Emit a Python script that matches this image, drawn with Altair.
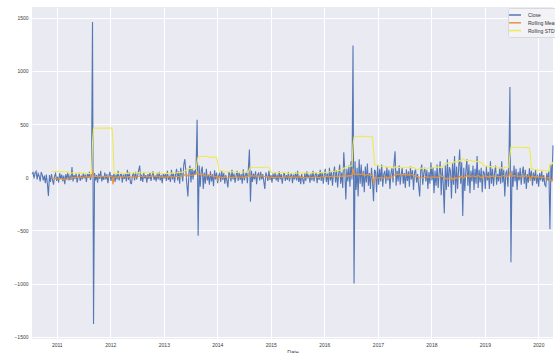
import altair as alt
import pandas as pd

start_date = "2010-07-16"

seg_a = [30, 45, -10, 40, 55, -20, 35, 10, -40, 50,
         20, -30, 15, -55, 25, -60, -175, 20, -45, 30,
         -25, -70, 10, 35, -35, 5, -50, 40, -15, 25,
         -40, 15, -65, 30, -20, 45, -30, 10, -25, 95,
         -40, 20, -15, 35, -50, 5, 30, -35, 15, -20,
         40, -10, 25, -45, 30, -5, 50, -25, 15]
spike_1 = [1460, -1380]
seg_b = [40, -30, 20, -50, 35, -15, 60, -40, 10, -25,
         45, -20, 30, -55, 15, 50, -35, 20, -10, 35,
         -45, 25, -20, 60, -30, 15, 40, -50, 25, -15,
         30, -40, 70, -25, 45, -55, -60, 20, 35, -30,
         50, -20, 15, 65, 110, -35, 25, -45, 40, -10,
         20, -50, 30, -15, 45, -35, 10, 55, -25, 15,
         -40, 35, -20, 50, -30, 20, -55, 40, -10, 30,
         -35, 60, -25, 15, -45, 70, -20, 40, -50, 25,
         80, -30, 55, -60, 90, 30, -40, 120, 170, 60,
         -70, -180, 40, 110, -50, 85, -20, 65, 30, 95]
spike_2 = [540, -550]
seg_c = [110, -90, 60, 100, -110, 45, -60, 80, -30, 20,
         -70, 55, -40, 30, -85, 65, -20, 45, -55, 15,
         35, -45, 60, -25, 40, -60, 20, -30, -95, 50,
         25, -40, 70, -20, 35, -50, 15, 60, -35, 45,
         -25, 30, -60, 75, -30, 20, 45, -55, 90, 260,
         -230, 60, -45, 35, -20, 55, -65, 25, 40, -30,
         50, -20, 30, -40, -110, 45, 15, -35, 60, -25,
         20, -50, 35, -15, 40, -30, 25, -45, 55, -20,
         30, -60, 15, 45, -35, 20, -25, 50, -40, 10,
         35, -55, 25, -20, 45, -30, 60, -45, 15, -65,
         30, -20, -65, 40, -35, 55, -10, 25, -50, 35,
         -30, 60, -40, 20, 45, -55, 30, -25, 70, -35,
         50, -60, 25, 80, -45, 35, -70, 90, -30, 55,
         -80, 40, 100, -50, 65, -95, 30, 120, -60, 45,
         -100, 235, 60, -210, 80, -40, 110, -90, 150, -20]
spike_3 = [1240, -1000]
seg_d = [150, -120, 90, -180, 170, -60, 120, -90, 60, -140,
         100, -50, 130, -80, 40, -110, 90, -30, -225, 70,
         50, -140, 110, -70, 80, -40, 120, -90, 30, 60,
         -60, 95, -30, 70, -110, 40, 85, -50, 130, 245,
         -80, 60, -40, 110, -70, 25, 90, -60, 40, -100,
         75, -35, 55, -90, 100, -20, 65, -120, 40, 80,
         -50, 30, -80, -180, 60, 120, -70, 40, 90, -40,
         70, -110, 50, -60, 140, -30, 95, -150, 60, -80,
         120, -100, 40, 150, -170, 90, -60, -340, 110, -120,
         170, -90, 95, 60, -200, 130, -70, 200, -150, 100,
         -110, 80, 260, -60, 140, -365, 90, -130, 60, 170,
         -80, 120, -150, 60, -40, 110, -120, 80, -60, 200,
         -100, 70, -50, 90, -140, 60, 40, -110, 100, -30,
         50, -110, 150, -60, 80, -85, 40, 110, -70, 30,
         -40, 90, -60, 150, -50, 70, -180, 40, 60, -90,
         110]
spike_4 = [850, -800]
seg_e = [60, -90, 110, -40, 80, -120, 50, -30, 90, -70,
         40, 100, -60, 70, -110, 30, -50, 85, -20, 60,
         -80, 45, -35, 70, -60, 25, -90, 40, -30, 55,
         -45, 20, -70, -85, 40, -30, 60, -490, 120, -40, 300]

close = seg_a + spike_1 + seg_b + spike_2 + seg_c + spike_3 + seg_d + spike_4 + seg_e

series_names = ["Close", "Rolling Mean", "Rolling STD"]
series_colors = ["#5577B5", "#E8943A", "#EEEA55"]
y_ticks = [-1500, -1000, -500, 0, 500, 1000, 1500]
x_years = list(range(2011, 2021))

dates = pd.date_range(start_date, periods=len(close), freq="W-FRI")
df = pd.DataFrame({"Date": dates.strftime("%Y-%m-%d"), "close": close})

FONT = "Liberation Sans"

color_enc = alt.Color(
    "series:N",
    scale=alt.Scale(domain=series_names, range=series_colors),
    title=None,
)
x_enc = alt.X(
    "Date:T",
    title="Date",
    scale=alt.Scale(nice=False),
    axis=alt.Axis(
        values=[alt.DateTime(year=y, month=1, date=1) for y in x_years],
        format="%Y",
        labelAngle=0,
        labelPadding=3,
        titlePadding=2,
    ),
)
y_scale = alt.Scale(domain=[-1522, 1602], nice=False, zero=False)
y_axis = alt.Axis(values=y_ticks, format="d", title=None, labelPadding=4)

base = alt.Chart(df).transform_window(
    rm="mean(close)",
    rs="stdev(close)",
    n="count(close)",
    frame=[-19, 0],
    sort=[{"field": "Date"}],
)

close_line = base.transform_calculate(series="'Close'").mark_line(strokeWidth=1.1).encode(
    x=x_enc,
    y=alt.Y("close:Q", scale=y_scale, axis=y_axis),
    color=color_enc,
)
mean_line = (
    base.transform_filter("datum.n == 20")
    .transform_calculate(series="'Rolling Mean'")
    .mark_line(strokeWidth=1.1)
    .encode(x=x_enc, y=alt.Y("rm:Q", scale=y_scale, axis=y_axis), color=color_enc)
)
std_line = (
    base.transform_filter("datum.n == 20")
    .transform_calculate(series="'Rolling STD'")
    .mark_line(strokeWidth=1.1)
    .encode(x=x_enc, y=alt.Y("rs:Q", scale=y_scale, axis=y_axis), color=color_enc)
)

chart = (
    alt.layer(close_line, mean_line, std_line)
    .properties(
        width=521,
        height=332,
        autosize=alt.AutoSizeParams(type="none"),
        padding={"left": 32, "top": 7, "right": 2, "bottom": 14},
        background="white",
    )
    .configure_view(fill="#EAEAF2", strokeWidth=0)
    .configure_axis(
        domain=False,
        ticks=False,
        grid=True,
        gridColor="white",
        gridWidth=1,
        labelFont=FONT,
        labelFontSize=5,
        labelColor="#3a3a3a",
        titleFont=FONT,
        titleFontSize=5.5,
        titleFontWeight="normal",
        titleColor="#3a3a3a",
    )
    .configure_legend(
        orient="none",
        legendX=476,
        legendY=1,
        fillColor="#F3F3F7",
        strokeColor="#D8D8E0",
        padding=3,
        cornerRadius=2,
        symbolType="M-2,0L2,0",
        symbolSize=36,
        symbolStrokeWidth=1.5,
        labelFont=FONT,
        labelFontSize=5,
        labelColor="#333333",
        labelOffset=9,
        rowPadding=0.8,
    )
)

chart.save("out.html", embed_options={"renderer": "svg", "actions": False})
